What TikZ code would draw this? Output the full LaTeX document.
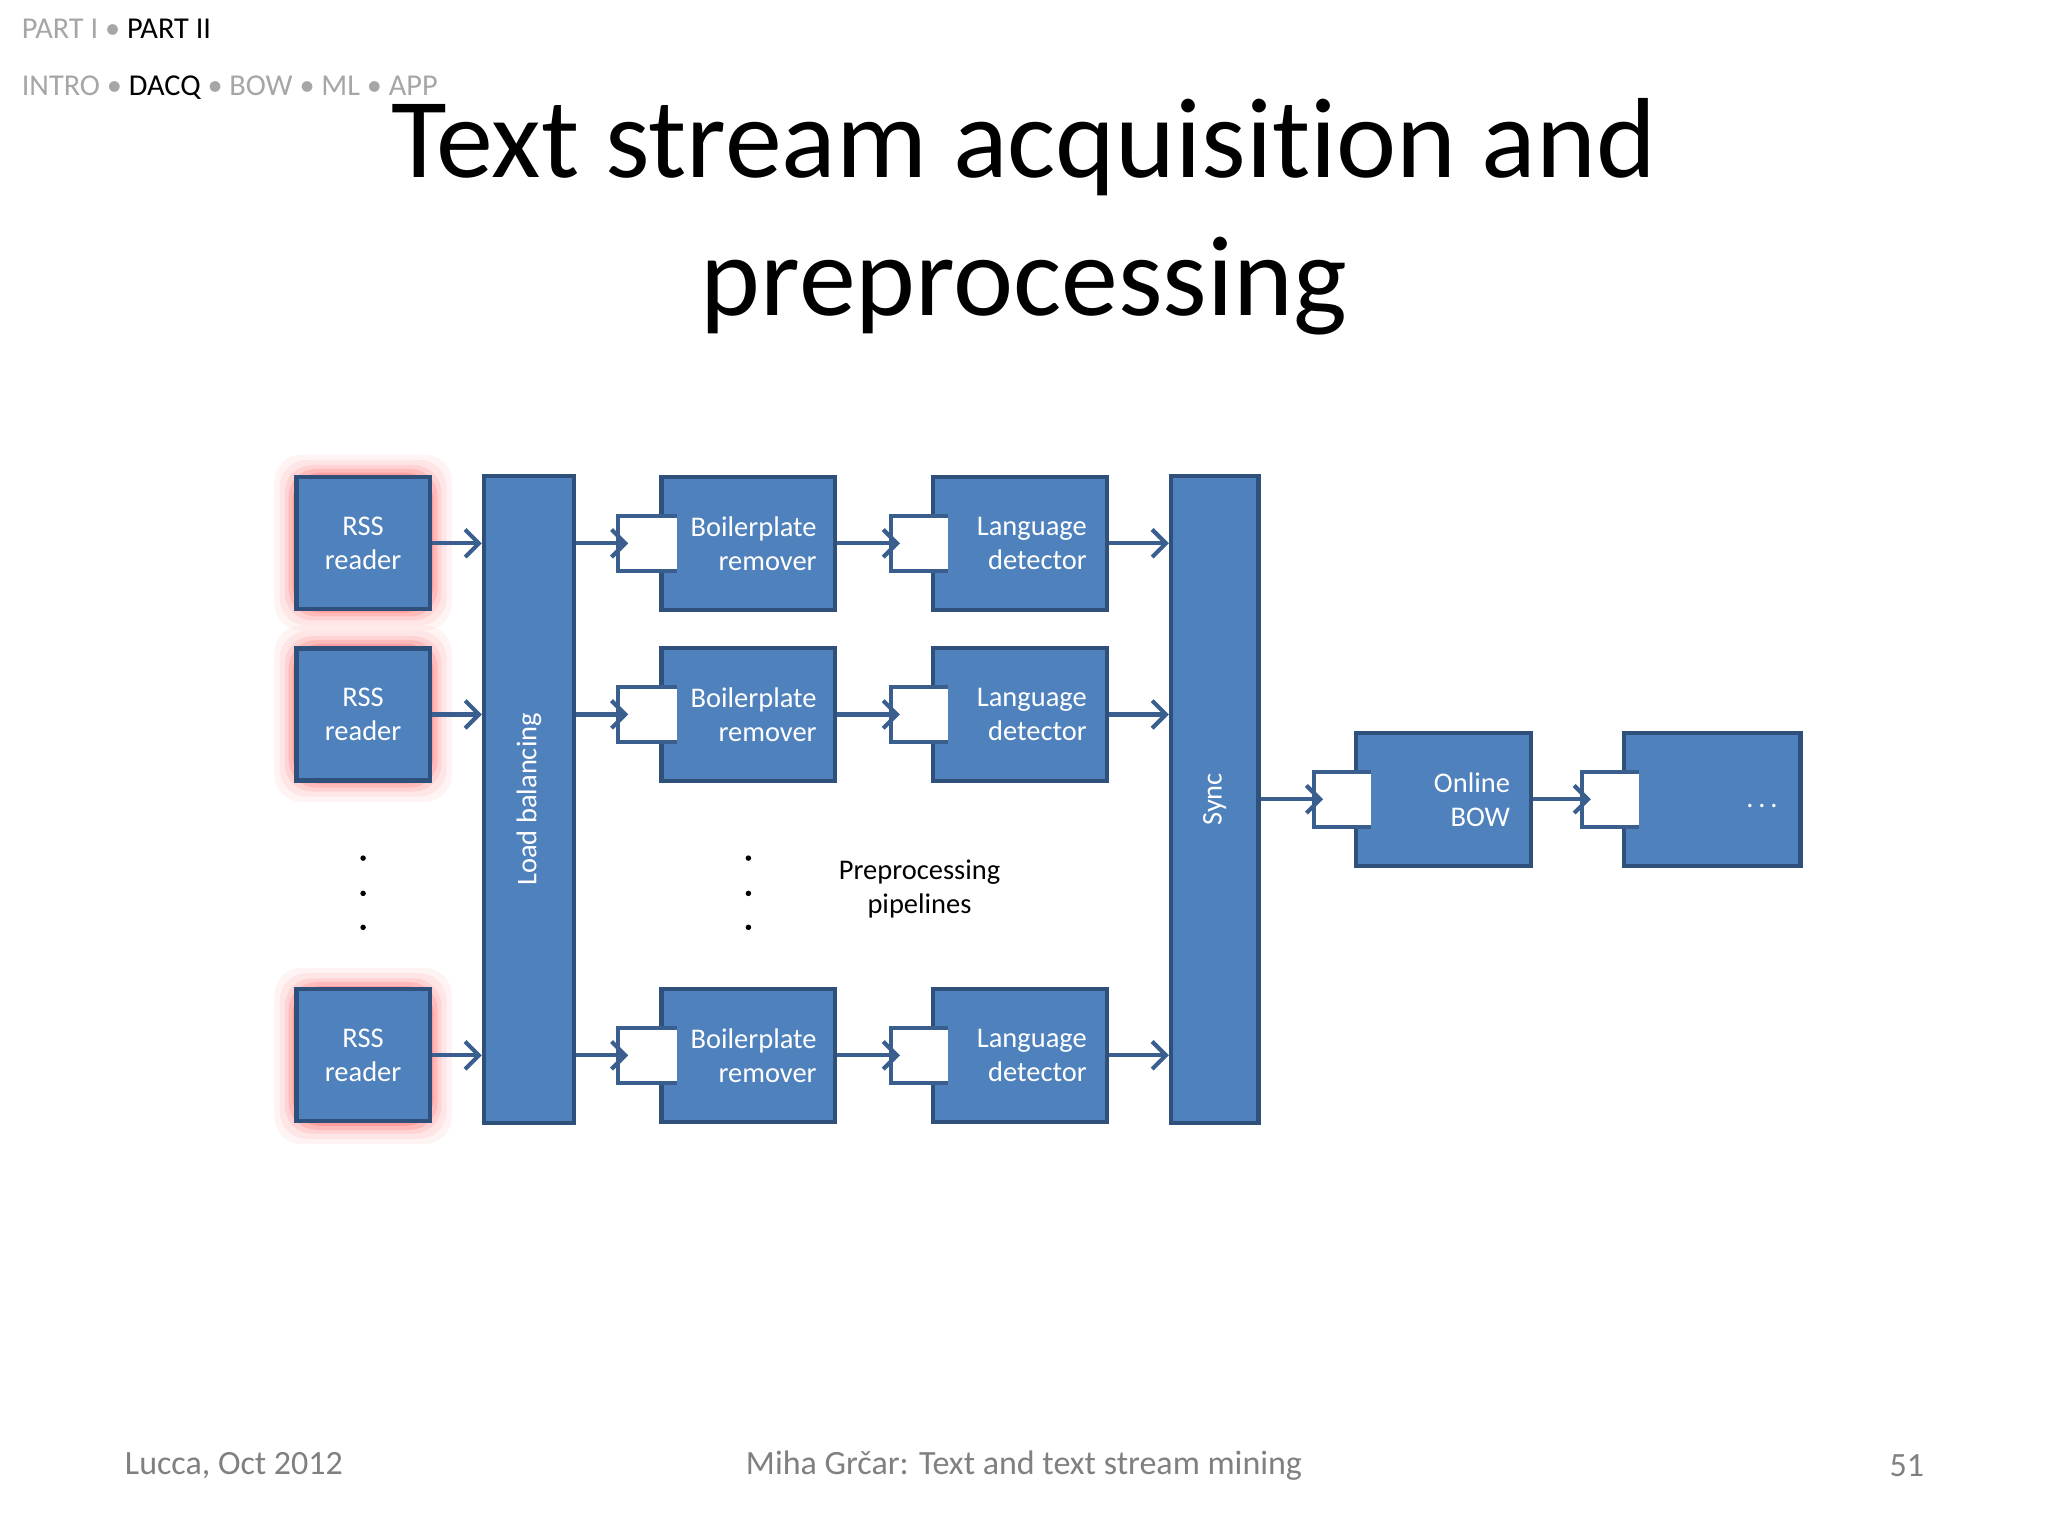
\documentclass[tikz,border=0pt]{standalone}
\usepackage{fontspec}
\setmainfont{Carlito}[Ligatures=NoCommon]
\usetikzlibrary{arrows.meta}
\begin{document}
\begin{tikzpicture}[x=0.01cm,y=-0.01cm,
  box/.style={draw=bb,line width=0.9pt,fill=bf,text=white,inner sep=0pt,align=center,font=\fontsize{6.2}{7.4}\selectfont},
  arr/.style={draw=ar,line width=0.9pt,-{Straight Barb[length=3pt,width=6pt,line width=0.9pt]}},
  nline/.style={draw=ar,line width=0.9pt},
  dot/.style={circle,fill=black,inner sep=0pt,minimum size=1.2pt}]
\definecolor{bf}{HTML}{4F81BD}
\definecolor{bb}{HTML}{2F507A}
\definecolor{ar}{HTML}{3A5F8E}
\definecolor{gr}{HTML}{A6A6A6}
\useasboundingbox (0,0) rectangle (1568,1176);
\fill[white] (0,0) rectangle (1568,1176);
% header
\node[anchor=west,inner sep=0pt,font=\fontsize{6.6}{7.5}\selectfont] (h1) at (16,22) {\textcolor{gr}{PART I \textbullet} PART II};
\node[anchor=west,inner sep=0pt,font=\fontsize{6.6}{7.5}\selectfont] (h2) at (16,67) {\textcolor{gr}{INTRO \textbullet} DACQ \textcolor{gr}{\textbullet{} BOW \textbullet{} ML \textbullet{} APP}};
\node[align=center,font=\fontsize{24.8}{30}\selectfont] (title) at (784,166) {Text stream acquisition and\\preprocessing};
% glow
\foreach \y in {364,495,757}{
  \foreach \w/\o in {16/0.06,12/0.08,8/0.12,5/0.18,2/0.25}{
    \fill[red!70,opacity=\o,rounded corners=6pt] (226-\w,\y-\w) rectangle (330+\w,\y+103+\w);}}
% RSS readers
\foreach \n/\y in {r1/416,r2/547,r3/808}{
  \node[box,minimum width=1.02cm,minimum height=1.01cm] (\n) at (278,\y) {RSS\\reader};}
\node[box,minimum width=0.69cm,minimum height=4.95cm] (lb) at (405,612) {\rotatebox{90}{Load balancing}};
\node[box,minimum width=0.67cm,minimum height=4.95cm] (sy) at (930,612) {\rotatebox{90}{Sync}};
\foreach \i/\y in {1/416,2/547,3/808}{
  \node[box,minimum width=1.33cm,minimum height=1.02cm] (bp\i) at (573,\y) {};
  \node[box,minimum width=1.33cm,minimum height=1.02cm] (ld\i) at (781,\y) {};
  \fill[white] (473,\y-21) rectangle (518,\y+21);
  \draw[nline] (518,\y-21) -- (473,\y-21) -- (473,\y+21) -- (518,\y+21);
  \fill[white] (682,\y-21) rectangle (726,\y+21);
  \draw[nline] (726,\y-21) -- (682,\y-21) -- (682,\y+21) -- (726,\y+21);
  \node[text=white,align=right,font=\fontsize{6.2}{7.4}\selectfont] (bt\i) at (577,\y) {Boilerplate\\remover};
  \node[text=white,align=right,font=\fontsize{6.2}{7.4}\selectfont] (lt\i) at (790,\y) {Language\\detector};
  \coordinate (bn\i) at (481,\y);
  \coordinate (ln\i) at (689,\y);
  \draw[arr] (r\i.east |- 0,\y) -- (lb.west |- 0,\y);
  \draw[arr] (lb.east |- 0,\y) -- (bn\i);
  \draw[arr] (bp\i.east) -- (ln\i);
  \draw[arr] (ld\i.east) -- (sy.west |- 0,\y);
}
\node[box,minimum width=1.34cm,minimum height=1.02cm] (ob) at (1105,612) {};
\node[box,minimum width=1.35cm,minimum height=1.02cm] (dd) at (1311,612) {};
\foreach \x in {1006,1211}{
  \fill[white] (\x,591) rectangle (\x+44,633);
  \draw[nline] (\x+44,591) -- (\x,591) -- (\x,633) -- (\x+44,633);}
\node[text=white,align=right,font=\fontsize{6.2}{7.4}\selectfont] (obt) at (1127,612) {Online\\BOW};
\node[text=white,font=\fontsize{6.2}{7.4}\selectfont] (ddt) at (1349,617) {.\,.\,.};
\coordinate (on) at (1013,612);
\coordinate (dn) at (1218,612);
\draw[arr] (sy.east |- 0,612) -- (on);
\draw[arr] (ob.east) -- (dn);
% dots
\foreach \y [count=\k] in {657,684,710}{
  \node[dot] (da\k) at (278,\y) {};
  \node[dot] (db\k) at (573,\y) {};}
\node[align=center,font=\fontsize{6.2}{7.4}\selectfont] (pp) at (704,681) {Preprocessing\\pipelines};
% footer
\node[anchor=west,inner sep=0pt,text=gray,font=\fontsize{7.4}{8}\selectfont] (f1) at (95,1122) {Lucca, Oct 2012};
\node[inner sep=0pt,text=gray,font=\fontsize{7.4}{8}\selectfont] (f2) at (784,1122) {Miha Grčar: Text and text stream mining};
\node[inner sep=0pt,text=gray,font=\fontsize{7.4}{8}\selectfont] (f3) at (1460,1122) {51};
\end{tikzpicture}
\end{document}
